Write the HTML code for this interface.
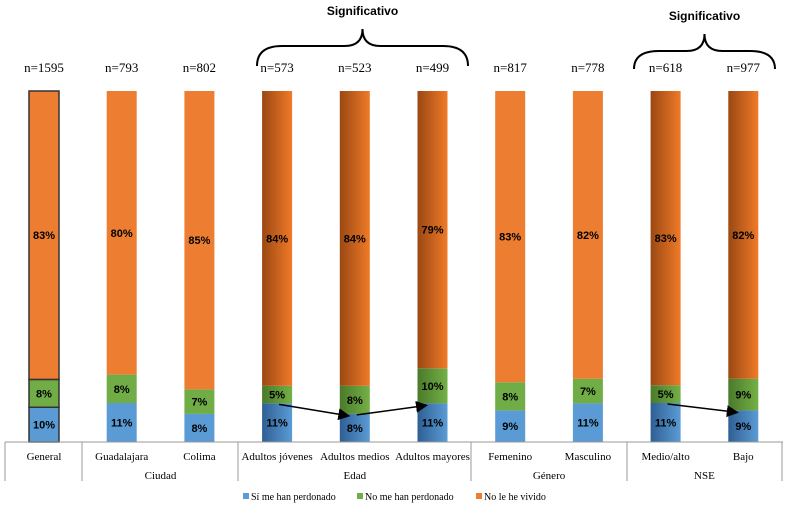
<!DOCTYPE html>
<html><head><meta charset="utf-8"><style>
body{margin:0;background:#fff;}
svg text{font-family:"Liberation Serif",serif;}
</style></head><body>
<svg id="c" width="790" height="510" viewBox="0 0 790 510" xmlns="http://www.w3.org/2000/svg">
<defs>
<linearGradient id="gO" x1="0" x2="1" y1="0" y2="0"><stop offset="0" stop-color="#9a4812"/><stop offset="1" stop-color="#f07a28"/></linearGradient>
<linearGradient id="gG" x1="0" x2="1" y1="0" y2="0"><stop offset="0" stop-color="#4a7a2a"/><stop offset="1" stop-color="#74b046"/></linearGradient>
<linearGradient id="gB" x1="0" x2="1" y1="0" y2="0"><stop offset="0" stop-color="#2f5f94"/><stop offset="1" stop-color="#5b9bd5"/></linearGradient>
<marker id="ah" markerWidth="8" markerHeight="8" refX="7" refY="4" orient="auto"><path d="M0,0 L8,4 L0,8 z" fill="#000"/></marker>
</defs>
<g id="bars"></g>
<g id="axis"></g>
<g id="ann"></g>
</svg>
<script>
const categories=["General","Guadalajara","Colima","Adultos jóvenes","Adultos medios","Adultos mayores","Femenino","Masculino","Medio/alto","Bajo"];
const nLabels=["n=1595","n=793","n=802","n=573","n=523","n=499","n=817","n=778","n=618","n=977"];
const siPerdonado=[10,11,8,11,8,11,9,11,11,9];
const noPerdonado=[8,8,7,5,8,10,8,7,5,9];
const noVivido=[83,80,85,84,84,79,83,82,83,82];
const gradient=[0,0,0,1,1,1,0,0,1,1];
const groups=["","Ciudad","Edad","Género","NSE"];
const groupSpans=[[0,0],[1,2],[3,5],[6,7],[8,9]];
const NS="http://www.w3.org/2000/svg";
const top0=91,bottom0=442,bw=30;
function xC(i){return 44+i*77.7;}
function hOf(v,i){const t=siPerdonado[i]+noPerdonado[i]+noVivido[i];return v/t*(bottom0-top0);}
function mk(t,a,p){const e=document.createElementNS(NS,t);for(const k in a)e.setAttribute(k,a[k]);(p||document.getElementById('bars')).appendChild(e);return e;}
const series=[[siPerdonado,'#5b9bd5','url(#gB)','si'],[noPerdonado,'#70ad47','url(#gG)','no-perdonado'],[noVivido,'#ed7d31','url(#gO)','no-vivido']];
const blueTops=[];
categories.forEach((c,i)=>{
  let y=bottom0;
  series.forEach((s,k)=>{
    const h=hOf(s[0][i],i);y-=h;
    const r=mk('rect',{x:xC(i)-bw/2,y:y,width:bw,height:h,fill:gradient[i]?s[2]:s[1]});
    if(i===0){r.setAttribute('stroke','#333');r.setAttribute('stroke-width','1.5');}
    
    
    if(k===0)blueTops.push(y);
    const t=mk('text',{x:xC(i),y:y+h/2+4,'text-anchor':'middle','font-size':'11','font-weight':'bold',style:'font-family:"Liberation Sans",sans-serif'});
    t.textContent=s[0][i]+'%';
    
    
  });
  const n=mk('text',{x:xC(i),y:72,'text-anchor':'middle','font-size':'13'});
  n.textContent=nLabels[i];
  
  
  const cl=mk('text',{x:xC(i),y:460,'text-anchor':'middle','font-size':'11'},document.getElementById('axis'));
  cl.textContent=c;
  
  
});
const ax=document.getElementById('axis');
mk('line',{x1:5,x2:783,y1:bottom0,y2:bottom0,stroke:'#999'},ax);
const seps=[5,82,238,471,627,782];
seps.forEach(x=>mk('line',{x1:x,x2:x,y1:bottom0,y2:481,stroke:'#999'},ax));
groupSpans.forEach((g,j)=>{
  if(!groups[j])return;
  const t=mk('text',{x:(xC(g[0])+xC(g[1]))/2,y:479,'text-anchor':'middle','font-size':'11'},ax);
  t.textContent=groups[j];
  
  
});
// legend
const leg=[['#5b9bd5','Sí me han perdonado',243],['#70ad47','No me han perdonado',357],['#ed7d31','No le he vivido',476]];
leg.forEach(l=>{
  const r=mk('rect',{x:l[2],y:493,width:6,height:6,fill:l[0]},ax);
  
  
  const t=mk('text',{x:l[2]+8,y:500,'font-size':'10'},ax);
  t.textContent=l[1];
  
  
});
// annotations
const an=document.getElementById('ann');
function arrow(a,b){mk('line',{x1:xC(a)+2,y1:blueTops[a]+1,x2:xC(b)-6,y2:blueTops[b]+2,stroke:'#000','stroke-width':'1.5','marker-end':'url(#ah)'},an);}
arrow(3,4);arrow(4,5);arrow(8,9);
function brace(x1,x2,yEnd,yArm,yPeak){
  const m=(x1+x2)/2;
  const p=mk('path',{d:`M${x1},${yEnd} Q${x1},${yArm} ${x1+25},${yArm} L${m-18},${yArm} Q${m},${yArm} ${m},${yPeak} Q${m},${yArm} ${m+18},${yArm} L${x2-25},${yArm} Q${x2},${yArm} ${x2},${yEnd}`,fill:'none',stroke:'#000','stroke-width':'2'},an);
  
  
  const t=mk('text',{x:m,y:yPeak-14,'text-anchor':'middle','font-size':'12','font-weight':'bold',style:'font-family:"Liberation Sans",sans-serif'},an);
  t.textContent='Significativo';
  
  
}
brace(257,468,66,46,29);
brace(634,775,69,51,34);
</script>
</body></html>
